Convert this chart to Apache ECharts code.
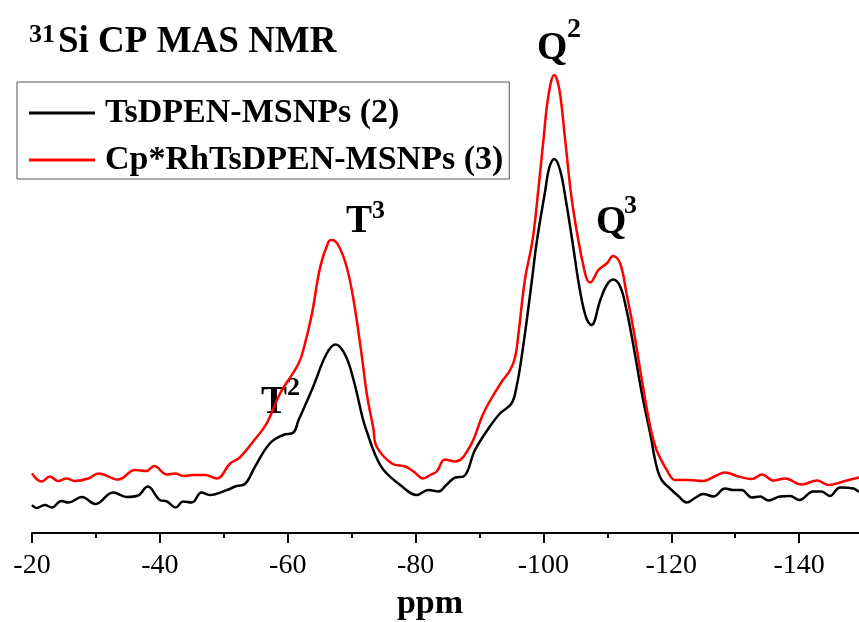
<!DOCTYPE html>
<html>
<head>
<meta charset="utf-8">
<script src="https://cdn.jsdelivr.net/npm/echarts@6/dist/echarts.min.js"></script>
<style>
  html, body { margin: 0; padding: 0; background: #fff; }
  #chart { width: 859px; height: 622px; }
</style>
</head>
<body>
<div id="chart"></div>
<script>
// 29Si CP MAS NMR spectra, x in ppm, y in arbitrary intensity
var seriesNames = ['TsDPEN-MSNPs (2)', 'Cp*RhTsDPEN-MSNPs (3)'];

var ppmBlack = [-20.0, -20.7, -22.0, -23.1, -24.6, -25.7, -27.8, -29.9, -32.7, -34.8, -36.6, -38.1,
  -40.0, -41.1, -42.5, -43.6, -45.0, -46.5, -47.8, -50.5, -52.0, -53.3, -54.9, -57.2, -59.3,
  -60.9, -61.7, -62.2, -64.0, -66.1, -67.5, -69.0, -70.3, -71.8, -72.4, -73.7, -75.0, -77.6,
  -80.2, -82.0, -83.6, -84.8, -86.2, -87.5, -89.3, -91.4, -93.2, -95.0, -95.8, -96.6, -97.4,
  -98.2, -99.0, -100.3, -100.9, -101.7, -102.6, -103.5, -104.5, -105.7, -106.7, -107.5,
  -108.9, -109.9, -110.9, -112.0, -113.0, -114.1, -115.4, -116.7, -117.7, -118.5, -119.8,
  -121.1, -122.4, -123.7, -125.0, -126.6, -128.4, -129.7, -131.0, -132.6, -133.9, -135.2,
  -137.0, -138.6, -140.0, -142.2, -143.5, -144.8, -146.4, -148.5, -149.4, -150.5];
var intBlack = [5.6, 5.0, 5.6, 5.1, 6.4, 6.1, 7.2, 5.8, 8.1, 7.2, 7.5, 9.3,
  6.6, 6.3, 5.1, 6.3, 6.1, 8.1, 7.6, 8.6, 9.4, 9.8, 13.3, 17.9, 19.6,
  20.1, 22.6, 24.0, 29.3, 35.9, 37.7, 35.6, 30.6, 22.6, 20.2, 15.6, 12.6, 9.6,
  7.6, 8.6, 8.3, 9.6, 11.1, 11.3, 16.6, 20.9, 23.9, 25.9, 29.3, 35.3, 42.6,
  50.6, 58.6, 68.6, 73.0, 74.8, 72.6, 66.6, 58.6, 48.6, 43.0, 41.6,
  46.6, 49.6, 50.7, 49.3, 44.6, 37.3, 27.9, 19.9, 13.3, 10.6, 8.9,
  7.4, 6.1, 7.0, 7.8, 7.3, 8.9, 8.6, 8.6, 7.1, 7.3, 6.5,
  7.3, 7.4, 6.6, 8.3, 8.3, 7.4, 9.1, 8.9, 8.3, 8.8];

var ppmRed = [-20.0, -21.5, -22.8, -24.1, -25.4, -26.7, -28.8, -30.4, -33.5, -36.1, -37.9, -39.1,
  -41.1, -42.4, -43.7, -45.2, -47.1, -48.9, -51.0, -52.5, -54.6, -56.7, -58.8, -61.7, -62.7,
  -63.8, -65.1, -66.4, -66.9, -67.9, -69.2, -70.3, -71.6, -72.4, -73.4, -73.9, -76.3, -78.4,
  -79.7, -81.2, -82.3, -83.3, -84.6, -86.2, -88.5, -90.4, -91.4, -93.5, -94.8, -95.6, -96.1,
  -97.1, -98.3, -99.2, -100.0, -100.8, -101.7, -102.5, -103.4, -104.6, -106.5, -107.3,
  -108.6, -109.9, -110.9, -112.0, -113.0, -114.1, -115.4, -116.7, -117.7, -119.3, -120.6,
  -122.7, -125.0, -126.9, -128.4, -130.5, -132.6, -134.2, -136.0, -137.8, -140.4, -142.8,
  -144.6, -146.9, -149.4, -150.5];
var intRed = [11.9, 10.3, 11.3, 10.4, 10.9, 10.4, 10.9, 11.9, 10.7, 12.6, 12.4, 13.4,
  11.7, 11.9, 11.4, 11.6, 11.6, 10.9, 13.9, 15.1, 18.3, 21.9, 27.9, 33.9, 37.9,
  43.9, 53.3, 58.3, 58.6, 57.6, 53.3, 46.6, 35.3, 27.6, 20.9, 17.3, 13.9, 13.3,
  12.3, 10.9, 11.6, 12.3, 14.7, 14.3, 17.3, 23.3, 25.9, 30.3, 32.6, 35.3, 39.9,
  50.6, 58.6, 68.6, 78.6, 87.6, 91.6, 88.6, 78.6, 65.2, 52.0, 50.1,
  52.6, 53.9, 55.4, 53.9, 47.9, 40.6, 30.6, 21.3, 16.6, 12.6, 10.6,
  10.6, 10.4, 11.4, 12.1, 11.3, 10.8, 11.7, 10.5, 10.9, 9.7, 10.5,
  9.6, 10.3, 11.1, 11.3];

var xTicks = [-20, -40, -60, -80, -100, -120, -140];

function pairs(xs, ys) {
  return xs.map(function (x, i) { return [x, ys[i]]; });
}

var serif = '"Liberation Serif", "Times New Roman", serif';

var chart = echarts.init(document.getElementById('chart'));
var option = {
  animation: false,
  backgroundColor: '#fff',
  color: ['#000000', '#ff0000'],
  // axis runs on past the right edge (to -160) so that -20 ... -140 keep a step of 20
  grid: { left: 32, width: 895, top: 33, height: 500, containLabel: false, outerBoundsMode: 'none' },
  xAxis: {
    type: 'value',
    inverse: true,
    min: -160,
    max: -20,
    interval: 20,
    name: 'ppm',
    nameLocation: 'middle',
    nameGap: 54,
    nameTextStyle: { fontFamily: serif, fontWeight: 'bold', fontSize: 34, color: '#000', padding: [0, 99, 0, 0] },
    axisLine: { lineStyle: { color: '#000', width: 2 } },
    axisTick: { show: true, length: 10, lineStyle: { color: '#000', width: 2 } },
    minorTick: { show: true, splitNumber: 2, length: 5, lineStyle: { color: '#000', width: 2 } },
    splitLine: { show: false },
    axisLabel: {
      fontFamily: serif, fontSize: 28, color: '#000', margin: 19,
      formatter: function (v) { return xTicks.indexOf(v) >= 0 ? String(v) : ''; }
    }
  },
  yAxis: {
    type: 'value', min: 0, max: 100, show: false
  },
  legend: {
    orient: 'vertical',
    left: 17,
    top: 82,
    padding: [14, 6, 2, 12],
    borderColor: '#555',
    borderWidth: 1,
    icon: 'rect',
    itemWidth: 66,
    itemHeight: 3,
    itemGap: 13,
    textStyle: { fontFamily: serif, fontWeight: 'bold', fontSize: 34, color: '#000', padding: [0, 0, 0, 5] },
    data: seriesNames
  },
  series: [
    {
      name: seriesNames[0], type: 'line', symbol: 'none', smooth: 0.4,
      lineStyle: { width: 2.5, color: '#000' },
      data: pairs(ppmBlack, intBlack)
    },
    {
      name: seriesNames[1], type: 'line', symbol: 'none', smooth: 0.4,
      lineStyle: { width: 2.5, color: '#ff0000' },
      data: pairs(ppmRed, intRed)
    }
  ],
  graphic: [
    { type: 'text', left: 29, top: 22, style: { text: '31', font: 'bold 26px ' + serif, fill: '#000' } },
    { type: 'text', left: 58, top: 24, style: { text: 'Si CP MAS NMR', font: 'bold 37px ' + serif, fill: '#000' } },
    { type: 'text', left: 261, top: 383, style: { text: 'T', font: 'bold 39px ' + serif, fill: '#000' } },
    { type: 'text', left: 287, top: 375, style: { text: '2', font: 'bold 26px ' + serif, fill: '#000' } },
    { type: 'text', left: 346, top: 202, style: { text: 'T', font: 'bold 39px ' + serif, fill: '#000' } },
    { type: 'text', left: 372, top: 198, style: { text: '3', font: 'bold 26px ' + serif, fill: '#000' } },
    { type: 'text', left: 537, top: 29, style: { text: 'Q', font: 'bold 39px ' + serif, fill: '#000' } },
    { type: 'text', left: 567, top: 16, style: { text: '2', font: 'bold 28px ' + serif, fill: '#000' } },
    { type: 'text', left: 596, top: 203, style: { text: 'Q', font: 'bold 39px ' + serif, fill: '#000' } },
    { type: 'text', left: 624, top: 193, style: { text: '3', font: 'bold 26px ' + serif, fill: '#000' } }
  ]
};
chart.setOption(option);
</script>
</body>
</html>
